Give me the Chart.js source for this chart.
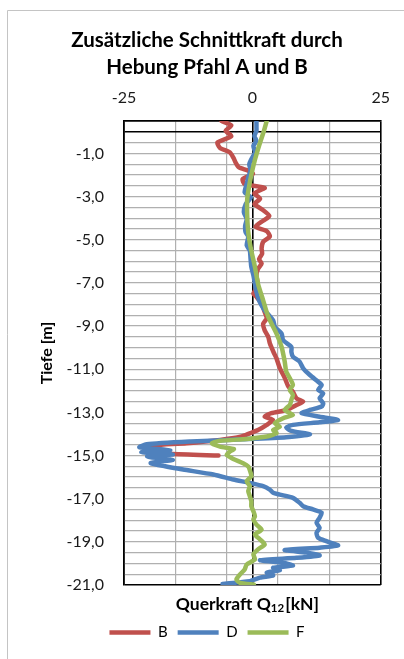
<!DOCTYPE html>
<html>
<head>
<meta charset="utf-8">
<script src="https://cdn.jsdelivr.net/npm/chart.js@4/dist/chart.umd.min.js"></script>
<style>
  html, body { margin: 0; padding: 0; background: #fff; }
  #wrap { width: 404px; height: 659px; }
</style>
</head>
<body>
<div id="wrap"><canvas id="c" width="404" height="659"></canvas></div>
<script>
// Querkraft Q12 [kN] over depth (Tiefe [m]) for piles B, D and F
const depthB = [0.5, 0.3, 0.05, -0.2, -0.5, -0.75, -0.95, -1.2, -1.45, -1.65, -1.8, -1.95, -2.2, -2.42, -2.6, -2.85, -3.1, -3.35, -3.6, -3.9, -4.12, -4.4, -4.6, -4.85, -5.1, -5.4, -5.65, -5.9, -6.1, -6.35, -6.65, -6.95, -7.25, -7.5, -7.65, -7.95, -8.35, -8.65, -8.9, -9.2, -9.5, -9.8, -10.25, -10.5, -10.95, -11.4, -11.8, -12.05, -12.35, -12.5, -12.66, -12.9, -13.04, -13.2, -13.35, -13.58, -13.82, -13.97, -14.12, -14.28, -14.43, -14.57, -14.75, -14.92, -15.0];
const forceB = [-6.0, -4.1, -5.2, -4.1, -6.8, -6.3, -4.4, -3.7, -3.2, -2.6, -0.8, 0.1, -1.9, -1.5, 2.4, 0.4, 1.5, 0.4, 1.9, 3.3, 2.1, 0.6, 2.8, 3.4, 2.1, 1.8, 1.9, 1.3, 1.8, 1.1, 0.8, 1.0, 0.8, 0.2, 0.8, 1.8, 2.4, 2.8, 2.1, 2.4, 3.1, 3.4, 4.2, 4.7, 5.35, 6.3, 7.0, 7.9, 8.6, 9.9, 8.6, 6.6, 3.7, 2.4, 4.0, 2.8, 1.1, -0.5, -2.1, -6.3, -12.8, -21.3, -20.0, -16.0, -6.6];

const depthD = [0.5, 0.2, 0.05, -0.2, -0.42, -0.65, -0.95, -1.27, -1.5, -1.8, -2.1, -2.42, -2.8, -3.04, -3.35, -3.73, -4.04, -4.35, -4.66, -4.85, -5.26, -5.5, -5.88, -6.26, -6.65, -7.04, -7.42, -7.81, -8.04, -8.27, -8.74, -9.04, -9.35, -9.66, -9.97, -10.2, -10.42, -10.65, -10.96, -11.27, -11.58, -11.73, -11.96, -12.12, -12.35, -12.58, -12.73, -12.89, -13.04, -13.2, -13.35, -13.46, -13.58, -13.7, -13.86, -14.02, -14.15, -14.25, -14.35, -14.48, -14.62, -14.75, -14.85, -14.95, -15.05, -15.2, -15.35, -15.5, -15.65, -15.88, -16.11, -16.27, -16.42, -16.58, -16.73, -16.81, -16.96, -17.19, -17.35, -17.5, -17.65, -17.88, -18.12, -18.35, -18.58, -18.81, -18.97, -19.17, -19.27, -19.38, -19.5, -19.63, -19.74, -19.85, -19.97, -20.1, -20.2, -20.31, -20.43, -20.56, -20.66, -20.82, -20.95];
const forceD = [0.8, 0.8, 0.8, 0.4, 0.8, 0.2, 0.5, -0.2, -0.6, -0.35, -0.8, -1.1, -1.5, -0.3, -1.3, -1.65, -1.1, -1.4, -1.3, -0.8, -1.1, -0.5, -0.35, -0.2, 0.2, 0.5, 0.8, 1.3, 1.8, 2.4, 4.05, 4.4, 5.7, 6.0, 7.6, 7.6, 7.9, 9.2, 9.9, 11.2, 12.8, 13.5, 12.8, 13.8, 13.1, 13.8, 13.5, 11.2, 9.6, 13.1, 16.7, 13.1, 7.9, 6.6, 7.6, 11.2, 6.6, -2.0, -12.0, -20.6, -22.0, -16.0, -21.6, -15.5, -20.5, -15.5, -19.8, -17.0, -13.5, -7.6, -3.7, -0.5, 2.1, 3.4, 4.05, 5.35, 7.9, 9.2, 9.9, 11.8, 13.5, 13.1, 12.5, 13.1, 12.5, 12.8, 14.4, 16.7, 13.1, 6.3, 10.5, 13.1, 8.6, 1.5, 6.0, 7.9, 4.05, 5.35, 2.8, 4.05, 1.5, -0.5, -5.8];

const depthF = [0.5, 0.0, -0.8, -1.57, -2.35, -3.12, -3.89, -4.66, -5.4, -6.26, -7.04, -7.81, -8.58, -9.35, -9.97, -10.4, -10.65, -11.11, -11.42, -11.73, -11.96, -12.19, -12.42, -12.66, -12.89, -13.12, -13.27, -13.5, -13.66, -13.82, -13.97, -14.12, -14.23, -14.32, -14.43, -14.59, -14.7, -14.82, -14.97, -15.16, -15.36, -15.51, -15.67, -15.96, -16.19, -16.42, -16.65, -16.88, -17.12, -17.35, -17.58, -17.81, -17.96, -18.2, -18.43, -18.66, -18.89, -19.12, -19.35, -19.58, -19.81, -20.05, -20.28, -20.51, -20.74, -20.9, -20.98];
const forceF = [2.8, 2.2, 1.1, 0.2, -0.5, -1.0, -1.0, -0.8, -0.3, 0.5, 1.1, 2.1, 3.1, 4.7, 5.7, 6.1, 6.3, 6.6, 7.3, 7.9, 7.3, 7.9, 7.6, 7.3, 6.3, 7.9, 6.0, 4.4, 5.35, 4.05, 4.7, 2.8, -1.1, -6.3, -7.9, -6.3, -3.6, -4.4, -5.0, -3.7, -1.8, -0.8, -0.5, -0.2, -1.1, -0.5, -0.8, -0.5, -0.2, -0.2, 0.2, 0.5, 0.2, 0.8, 1.8, 0.5, 1.5, 2.4, 1.1, 0.2, 0.5, -1.1, -1.5, -2.4, -3.1, -2.4, 0.3];

const seriesNames = ['B', 'D', 'F'];
const xTickLabels = [-25, 0, 25];

const FONT = 'Lato, "Open Sans", "Noto Sans", sans-serif';

function toPoints(depths, forces) {
  return depths.map((d, i) => ({ x: forces[i], y: d }));
}

function series(label, depths, forces, color, order) {
  return {
    label,
    data: toPoints(depths, forces),
    borderColor: color,
    backgroundColor: color,
    borderWidth: 4.5,
    borderCapStyle: 'round',
    borderJoinStyle: 'round',
    pointRadius: 0,
    showLine: true,
    tension: 0.2,
    xAxisID: 'x',
    yAxisID: 'y',
    order
  };
}

// white page with the light frame of the chart object
const framePlugin = {
  id: 'frame',
  beforeDraw(chart) {
    const ctx = chart.ctx;
    ctx.save();
    ctx.fillStyle = '#ffffff';
    ctx.fillRect(0, 0, chart.width, chart.height);
    ctx.strokeStyle = '#c4c4c4';
    ctx.lineWidth = 1;
    ctx.beginPath();
    ctx.moveTo(7.5, chart.height);
    ctx.lineTo(7.5, 10.5);
    ctx.lineTo(chart.width, 10.5);
    ctx.stroke();
    ctx.restore();
  }
};

// bottom axis caption with subscript index
const captionPlugin = {
  id: 'caption',
  afterDraw(chart) {
    const ctx = chart.ctx;
    const ca = chart.chartArea;
    const main = 'bold 17.5px ' + FONT;
    const sub = 'bold 11.5px ' + FONT;
    const partA = 'Querkraft Q';
    const partB = '12';
    const partC = '[kN]';
    ctx.save();
    ctx.fillStyle = '#000';
    ctx.textBaseline = 'middle';
    ctx.font = main;
    const wA = ctx.measureText(partA).width;
    const wC = ctx.measureText(partC).width;
    ctx.font = sub;
    const wB = ctx.measureText(partB).width;
    const total = wA + wB + 1 + wC;
    const cx = (ca.left + ca.right) / 2 - 5;
    const y = ca.bottom + 19;
    let x = cx - total / 2;
    ctx.textAlign = 'left';
    ctx.font = main;
    ctx.fillText(partA, x, y);
    x += wA;
    ctx.font = sub;
    ctx.fillText(partB, x, y + 4.5);
    x += wB + 1;
    ctx.font = main;
    ctx.fillText(partC, x, y);
    ctx.restore();
  }
};

const GRID = '#b0b0b0';

new Chart(document.getElementById('c'), {
  type: 'scatter',
  data: {
    datasets: [
      series(seriesNames[0], depthB, forceB, '#C0504D', 3),
      series(seriesNames[1], depthD, forceD, '#4F81BD', 2),
      series(seriesNames[2], depthF, forceF, '#9BBB59', 1)
    ]
  },
  options: {
    responsive: false,
    animation: false,
    devicePixelRatio: 1,
    layout: { padding: { left: 10, right: 0, top: 0, bottom: 9 } },
    plugins: {
      tooltip: { enabled: false },
      title: {
        display: true,
        text: ['Zusätzliche Schnittkraft durch', 'Hebung Pfahl A und B'],
        color: '#000',
        font: { family: FONT, size: 20.5, weight: 'bold', lineHeight: 27 / 20.5 },
        padding: { top: 26.5, bottom: 0 }
      },
      legend: {
        position: 'bottom',
        labels: {
          usePointStyle: true,
          pointStyle: 'line',
          pointStyleWidth: 41,
          color: '#000',
          font: { family: FONT, size: 15 },
          padding: 10,
          sort: (a, b) => a.datasetIndex - b.datasetIndex
        }
      }
    },
    scales: {
      x: {
        type: 'linear',
        axis: 'x',
        position: 'top',
        min: -25,
        max: 25,
        afterFit(scale) { scale.height = 40.5; },
        ticks: {
          stepSize: 5,
          autoSkip: false,
          maxRotation: 0,
          padding: 14,
          color: '#1a1a1a',
          font: { family: FONT, size: 16 },
          callback: (v) => (xTickLabels.includes(v) ? String(v) : '')
        },
        grid: {
          drawTicks: false,
          color: (c) => {
            const v = c.tick ? c.tick.value : NaN;
            if (v === 0 || v === 25 || v === -25) return '#000';
            if (Math.abs(v % 10) === 5) return GRID;
            return 'rgba(0,0,0,0)';
          },
          lineWidth: (c) => {
            const v = c.tick ? c.tick.value : NaN;
            return (v === 0 || v === 25 || v === -25) ? 1.6 : 1.2;
          }
        },
        border: { color: '#000', width: 1.6 }
      },
      x2: {
        type: 'linear',
        axis: 'x',
        position: 'bottom',
        min: -25,
        max: 25,
        afterFit(scale) { scale.height = 30; },
        ticks: { display: false },
        grid: { display: false },
        border: { display: false }
      },
      y: {
        type: 'linear',
        axis: 'y',
        position: 'left',
        min: -21,
        max: 0.5,
        afterFit(scale) { scale.width = 114; },
        ticks: {
          stepSize: 0.5,
          autoSkip: false,
          padding: 20,
          color: '#1a1a1a',
          font: { family: FONT, size: 16 },
          callback: (v) => (Math.abs(v % 2) === 1 ? v.toFixed(1).replace('.', ',') : '')
        },
        grid: {
          drawTicks: false,
          color: (c) => {
            const v = c.tick ? c.tick.value : NaN;
            return (v === 0 || v === -21 || v === 0.5) ? '#000' : GRID;
          },
          lineWidth: (c) => {
            const v = c.tick ? c.tick.value : NaN;
            return (v === 0 || v === -21 || v === 0.5) ? 1.6 : 1.2;
          }
        },
        border: { color: '#000', width: 1.6 },
        title: {
          display: true,
          text: 'Tiefe [m]',
          color: '#000',
          font: { family: FONT, size: 16, weight: 'bold' },
          padding: { top: 27.5, bottom: 0 }
        }
      },
      yR: {
        type: 'linear',
        axis: 'y',
        position: 'right',
        min: -21,
        max: 0.5,
        afterFit(scale) { scale.width = 23; },
        ticks: { display: false },
        grid: { display: false },
        border: { display: false }
      }
    }
  },
  plugins: [framePlugin, captionPlugin]
});
</script>
</body>
</html>
